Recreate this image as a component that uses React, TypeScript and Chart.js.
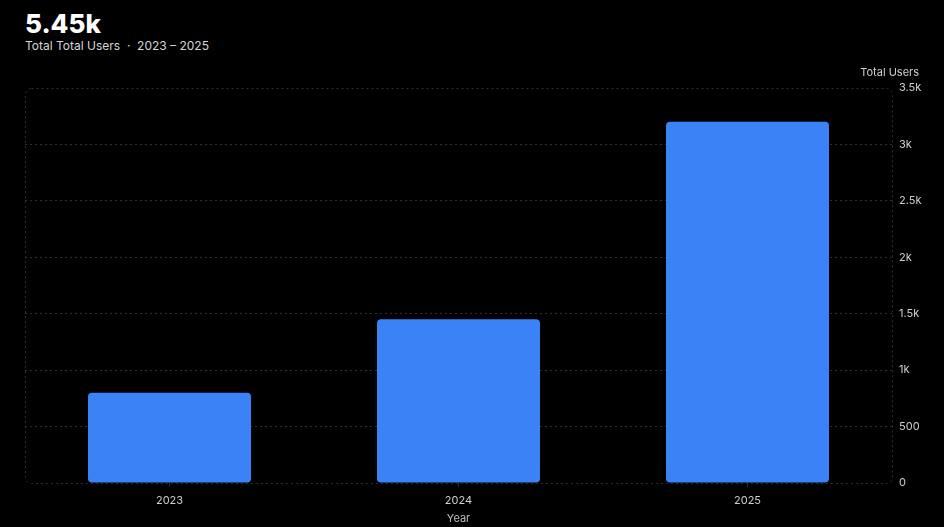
import React, { useEffect, useRef } from "react";
import { Chart, registerables } from "chart.js";

Chart.register(...registerables);

const categories = ["2023", "2024", "2025"];
const totalUsers = [800, 1450, 3200];
const yTicks = [0, 500, 1000, 1500, 2000, 2500, 3000, 3500];
const headline = "5.45k";
const subtitle = "Total Total Users  ·  2023 – 2025";
const yTitle = "Total Users";
const xTitle = "Year";

const FONT = "Inter, 'Noto Sans', sans-serif";
const GRID = "#2e2e2e";

function fmt(v: number) {
  if (v === 0) return "0";
  if (v >= 1000) return (v / 1000).toString() + "k";
  return v.toString();
}

const framePlugin = {
  id: "frame",
  beforeDatasetsDraw(chart: any) {
    const { ctx, chartArea } = chart;
    const { left, top, right, bottom } = chartArea;
    ctx.save();
    ctx.strokeStyle = GRID;
    ctx.lineWidth = 1;
    ctx.setLineDash([2, 3]);
    ctx.beginPath();
    (ctx as any).roundRect(left + 0.5, top + 0.5, right - left, bottom - top, 6);
    ctx.stroke();
    ctx.restore();
  },
  afterDraw(chart: any) {
    const { ctx, chartArea } = chart;
    ctx.save();
    ctx.fillStyle = "#cfcfcf";
    ctx.font = `11px ${FONT}`;
    ctx.textAlign = "right";
    ctx.textBaseline = "middle";
    ctx.fillText(yTitle, chartArea.right + 27, chartArea.top - 15);
    ctx.restore();
  },
};

export default function App() {
  const ref = useRef<HTMLCanvasElement>(null);
  useEffect(() => {
    document.body.style.margin = "0";
    document.body.style.background = "#000";
    const chart = new Chart(ref.current!, {
      type: "bar",
      data: {
        labels: categories,
        datasets: [
          {
            label: yTitle,
            data: totalUsers,
            backgroundColor: "#3b82f6",
            borderRadius: 4,
            borderSkipped: false,
            barPercentage: 0.8,
            categoryPercentage: 0.705,
          },
        ],
      },
      options: {
        animation: false,
        responsive: false,
        maintainAspectRatio: false,
        layout: { padding: { left: 25, right: 0, top: 28, bottom: 0 } },
        plugins: { legend: { display: false }, tooltip: { enabled: false } },
        scales: {
          x: {
            grid: {
              display: true,
              offset: false,
              drawOnChartArea: false,
              drawTicks: true,
              tickLength: 4,
              color: GRID,
            },
            border: { display: false },
            ticks: { color: "#cfcfcf", font: { size: 11, family: FONT }, padding: 7 },
            title: {
              display: true,
              text: xTitle,
              color: "#bdbdbd",
              font: { size: 11, family: FONT },
              padding: { top: 2, bottom: 2 },
            },
            afterFit(scale: any) {
              scale.height = 44;
            },
          },
          y: {
            position: "right",
            min: 0,
            max: 3500,
            afterBuildTicks(scale: any) {
              scale.ticks = yTicks.map((v) => ({ value: v }));
            },
            grid: {
              color: (c: any) =>
                c.index === 0 || c.index === yTicks.length - 1 ? "rgba(0,0,0,0)" : GRID,
              drawTicks: false,
            },
            border: { display: false, dash: [2, 3] },
            ticks: {
              color: "#cfcfcf",
              font: { size: 11, family: FONT },
              padding: 7,
              callback: (v: any) => fmt(Number(v)),
            },
            afterFit(scale: any) {
              scale.width = 52;
            },
          },
        },
      } as any,
      plugins: [framePlugin],
    });
    return () => chart.destroy();
  }, []);

  return (
    <div style={{ position: "relative", width: 944, height: 527, background: "#000", overflow: "hidden" }}>
      <div
        style={{
          position: "absolute",
          left: 25,
          top: 8,
          color: "#fff",
          fontFamily: FONT,
          fontWeight: 800,
          fontSize: 26,
          lineHeight: "32px",
        }}
      >
        {headline}
      </div>
      <div
        style={{
          position: "absolute",
          left: 25,
          top: 38,
          color: "#d6d6d6",
          fontFamily: FONT,
          fontSize: 12,
          lineHeight: "16px",
          whiteSpace: "pre",
        }}
      >
        {subtitle}
      </div>
      <canvas ref={ref} width={944} height={467} style={{ position: "absolute", left: 0, top: 60 }} />
    </div>
  );
}
